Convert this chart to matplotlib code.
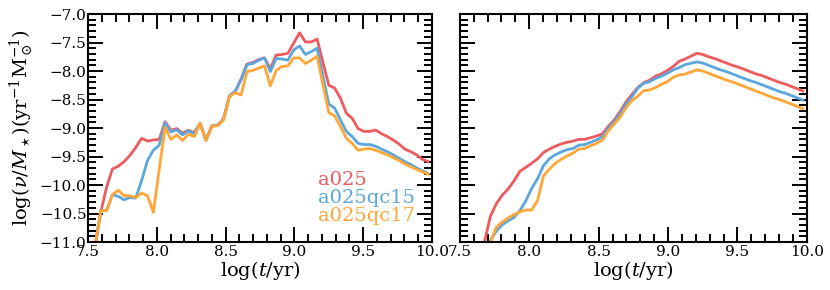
import matplotlib
matplotlib.use("Agg")
import matplotlib.pyplot as plt
from matplotlib.ticker import MultipleLocator

plt.rcParams['font.family'] = ['DejaVu Serif']
plt.rcParams['mathtext.fontset'] = 'dejavuserif'

# log(t/yr) bins shared by every run
log_t = [7.55, 7.5925, 7.635, 7.6775, 7.72, 7.7625, 7.805, 7.8475, 7.89, 7.9325,
         7.975, 8.0175, 8.06, 8.1025, 8.145, 8.1875, 8.23, 8.2725, 8.315, 8.3575,
         8.40, 8.4425, 8.485, 8.5275, 8.57, 8.6125, 8.655, 8.6975, 8.74, 8.7825,
         8.825, 8.8675, 8.91, 8.9525, 8.995, 9.0375, 9.08, 9.1225, 9.165, 9.2075,
         9.25, 9.2925, 9.335, 9.3775, 9.42, 9.4625, 9.505, 9.5475, 9.59, 9.6325,
         9.675, 9.7175, 9.76, 9.8025, 9.845, 9.8875, 9.93, 9.9725]

runs = ['a025', 'a025qc15', 'a025qc17']
colors = ['#ee5a5e', '#5aa7de', '#ffa636']

# left panel: specific rate
rate_a025 = [-11.1, -10.48, -10.04, -9.72, -9.67, -9.59, -9.48, -9.34, -9.18, -9.23,
             -9.21, -9.20, -8.89, -9.04, -9.01, -9.09, -9.04, -9.08, -8.92, -9.21,
             -8.96, -8.95, -8.84, -8.44, -8.36, -8.14, -7.88, -7.85, -7.80, -7.77,
             -7.96, -7.72, -7.71, -7.69, -7.51, -7.33, -7.49, -7.49, -7.44, -7.85,
             -8.25, -8.30, -8.48, -8.74, -8.83, -9.01, -9.06, -9.06, -9.035, -9.10,
             -9.15, -9.21, -9.28, -9.37, -9.415, -9.47, -9.55, -9.59]
rate_qc15 = [-11.1, -10.45, -10.45, -10.17, -10.20, -10.26, -10.22, -10.23, -9.92, -9.57,
             -9.39, -9.30, -8.91, -9.07, -9.03, -9.12, -9.05, -9.10, -8.92, -9.22,
             -8.97, -8.95, -8.85, -8.44, -8.35, -8.16, -7.89, -7.87, -7.81, -7.77,
             -8.01, -7.78, -7.79, -7.81, -7.63, -7.56, -7.71, -7.66, -7.60, -8.09,
             -8.58, -8.65, -8.86, -9.06, -9.15, -9.27, -9.29, -9.29, -9.32, -9.37,
             -9.415, -9.47, -9.53, -9.59, -9.64, -9.70, -9.75, -9.80]
rate_qc17 = [-11.1, -10.45, -10.45, -10.17, -10.09, -10.19, -10.19, -10.22, -10.14, -10.19,
             -10.48, -9.73, -8.99, -9.20, -9.12, -9.22, -9.11, -9.15, -8.92, -9.22,
             -8.97, -8.96, -8.86, -8.45, -8.38, -8.42, -8.01, -7.99, -7.95, -7.91,
             -8.26, -7.99, -7.92, -7.91, -7.77, -7.77, -7.87, -7.81, -7.74, -8.24,
             -8.73, -8.79, -8.98, -9.18, -9.27, -9.39, -9.37, -9.36, -9.39, -9.43,
             -9.47, -9.52, -9.57, -9.63, -9.68, -9.725, -9.77, -9.81]

# right panel
cum_a025 = [-13.0, -12.6, -11.7, -11.0, -10.55, -10.33, -10.18, -10.07, -9.93, -9.76,
            -9.69, -9.62, -9.54, -9.43, -9.37, -9.32, -9.28, -9.25, -9.23, -9.20,
            -9.20, -9.17, -9.14, -9.10, -8.97, -8.86, -8.71, -8.54, -8.41, -8.29,
            -8.205, -8.16, -8.09, -8.05, -7.99, -7.92, -7.83, -7.79, -7.74, -7.69,
            -7.71, -7.75, -7.78, -7.82, -7.86, -7.90, -7.93, -7.97, -8.01, -8.05,
            -8.08, -8.12, -8.16, -8.20, -8.23, -8.27, -8.31, -8.35]
cum_qc15 = [-13.0, -12.8, -12.2, -11.6, -10.98, -10.81, -10.70, -10.63, -10.57, -10.45,
            -10.28, -10.06, -9.89, -9.66, -9.54, -9.47, -9.42, -9.38, -9.36, -9.30,
            -9.29, -9.25, -9.21, -9.15, -9.00, -8.89, -8.75, -8.58, -8.45, -8.30,
            -8.216, -8.187, -8.13, -8.09, -8.04, -7.98, -7.94, -7.89, -7.865, -7.84,
            -7.86, -7.90, -7.94, -7.98, -8.01, -8.05, -8.09, -8.13, -8.17, -8.20,
            -8.24, -8.28, -8.32, -8.36, -8.39, -8.43, -8.47, -8.51]
cum_qc17 = [-13.0, -12.8, -12.2, -11.6, -11.0, -10.74, -10.65, -10.58, -10.52, -10.47,
            -10.44, -10.44, -10.27, -9.84, -9.72, -9.62, -9.55, -9.49, -9.44, -9.37,
            -9.36, -9.31, -9.27, -9.21, -9.05, -8.93, -8.81, -8.64, -8.52, -8.44,
            -8.345, -8.333, -8.29, -8.234, -8.187, -8.11, -8.07, -8.053, -8.018, -7.98,
            -8.00, -8.04, -8.08, -8.12, -8.16, -8.19, -8.23, -8.27, -8.31, -8.35,
            -8.39, -8.43, -8.47, -8.50, -8.54, -8.58, -8.62, -8.66]

left_series = [rate_a025, rate_qc15, rate_qc17]
right_series = [cum_a025, cum_qc15, cum_qc17]

fig = plt.figure(figsize=(8.3, 2.9), dpi=100)
ax1 = fig.add_axes([0.106, 0.1655, 0.4145, 0.7862])
ax2 = fig.add_axes([0.554, 0.1655, 0.4181, 0.7862])

for name, col, ys in zip(runs, colors, left_series):
    ax1.plot(log_t, ys, color=col, lw=2, label=name)
for name, col, ys in zip(runs, colors, right_series):
    ax2.plot(log_t, ys, color=col, lw=2, label=name)

for ax in (ax1, ax2):
    ax.set_xlim(7.5, 10.0)
    ax.set_ylim(-11.0, -7.0)
    ax.xaxis.set_major_locator(MultipleLocator(0.5))
    ax.xaxis.set_minor_locator(MultipleLocator(0.1))
    ax.yaxis.set_major_locator(MultipleLocator(0.5))
    ax.yaxis.set_minor_locator(MultipleLocator(0.1))
    ax.tick_params(which='both', direction='in', top=True, right=True, width=1.4)
    ax.tick_params(which='major', length=11, labelsize=11)
    ax.tick_params(which='minor', length=5.5)
    ax.tick_params(axis='y', pad=1)
    ax.tick_params(axis='x', pad=2)
    for sp in ax.spines.values():
        sp.set_linewidth(1.5)
    ax.set_xlabel(r'$\log(t/\mathrm{yr})$', fontsize=14, labelpad=0)

ax2.tick_params(labelleft=False)
ax1.set_ylabel(r'$\log(\nu/M_\star)(\mathrm{yr}^{-1}\mathrm{M}_\odot^{-1})$', fontsize=14, labelpad=3)

leg = ax1.legend(loc='lower right', frameon=False, fontsize=14, handlelength=0,
                 handletextpad=0, labelcolor='linecolor', labelspacing=0.0,
                 borderaxespad=0.45)
for h in leg.legend_handles:
    h.set_visible(False)

fig.savefig('out.png', dpi=100)
